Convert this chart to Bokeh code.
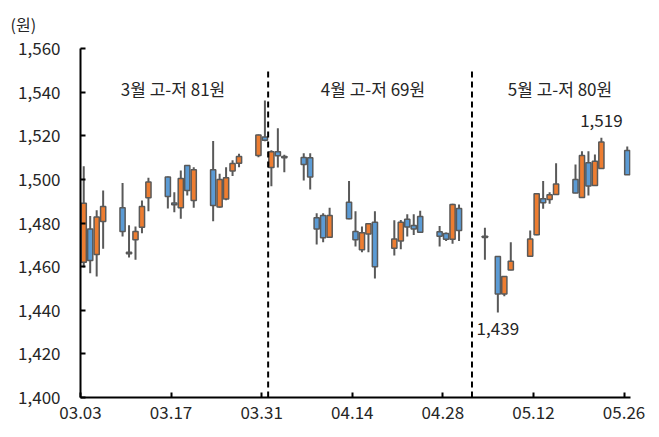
import numpy as np
from bokeh.plotting import figure
from bokeh.models import (ColumnDataSource, FixedTicker, DatetimeTickFormatter,
                          NumeralTickFormatter, Range1d)
from bokeh.embed import file_html
from bokeh.resources import INLINE
from bokeh.core.properties import value

# ---------------- data ----------------
dates = ["2025-03-03", "2025-03-04", "2025-03-05", "2025-03-06",
         "2025-03-09", "2025-03-10", "2025-03-11", "2025-03-12", "2025-03-13",
         "2025-03-16", "2025-03-17", "2025-03-18", "2025-03-19", "2025-03-20",
         "2025-03-23", "2025-03-24", "2025-03-25", "2025-03-26", "2025-03-27",
         "2025-03-30", "2025-03-31", "2025-04-01", "2025-04-02", "2025-04-03",
         "2025-04-06", "2025-04-07", "2025-04-08", "2025-04-09", "2025-04-10",
         "2025-04-13", "2025-04-14", "2025-04-15", "2025-04-16", "2025-04-17",
         "2025-04-20", "2025-04-21", "2025-04-22", "2025-04-23", "2025-04-24",
         "2025-04-27", "2025-04-28", "2025-04-29", "2025-04-30",
         "2025-05-04", "2025-05-06", "2025-05-07", "2025-05-08",
         "2025-05-11", "2025-05-12", "2025-05-13", "2025-05-14", "2025-05-15",
         "2025-05-18", "2025-05-19", "2025-05-20", "2025-05-21", "2025-05-22",
         "2025-05-26"]
opens = [1462.0, 1477.3, 1465.6, 1480.7,
         1487.0, 1466.6, 1472.3, 1478.1, 1491.6,
         1501.1, 1489.2, 1487.0, 1506.4, 1490.3,
         1504.4, 1487.3, 1491.0, 1503.8, 1507.4,
         1511.0, 1519.4, 1505.5, 1512.7, 1510.5,
         1510.0, 1509.9, 1482.4, 1483.4, 1473.5,
         1489.5, 1476.1, 1467.7, 1475.0, 1480.4,
         1468.4, 1471.8, 1481.7, 1478.9, 1483.0,
         1476.0, 1475.2, 1472.5, 1486.6,
         1473.9, 1464.6, 1447.5, 1458.5,
         1464.7, 1474.6, 1491.1, 1490.8, 1493.1,
         1499.9, 1491.7, 1507.6, 1497.2, 1505.0,
         1513.2]
closes = [1489.1, 1462.8, 1482.7, 1487.6,
          1476.1, 1465.9, 1476.1, 1487.6, 1498.8,
          1492.2, 1488.4, 1500.4, 1494.9, 1504.4,
          1488.0, 1500.0, 1500.8, 1507.3, 1510.5,
          1520.3, 1517.9, 1512.7, 1510.8, 1509.9,
          1506.8, 1501.1, 1477.3, 1473.2, 1483.4,
          1481.9, 1472.3, 1475.5, 1479.6, 1460.0,
          1472.7, 1480.4, 1478.2, 1477.2, 1475.8,
          1473.9, 1472.5, 1488.5, 1476.6,
          1473.3, 1447.5, 1455.5, 1462.5,
          1472.7, 1493.4, 1489.3, 1493.0, 1497.9,
          1493.7, 1511.0, 1497.0, 1508.3, 1517.1,
          1502.1]
highs = [1506.0, 1483.2, 1485.8, 1494.9,
         1498.3, 1479.0, 1478.4, 1490.3, 1500.8,
         1501.3, 1494.1, 1504.1, 1506.6, 1505.6,
         1517.6, 1502.6, 1505.6, 1508.8, 1511.7,
         1520.6, 1536.2, 1513.4, 1523.4, 1511.3,
         1512.0, 1512.0, 1484.5, 1484.5, 1487.0,
         1499.2, 1485.4, 1478.4, 1480.0, 1485.4,
         1481.3, 1481.4, 1484.0, 1484.0, 1485.6,
         1478.6, 1475.6, 1488.8, 1488.5,
         1477.8, 1464.8, 1455.6, 1471.2,
         1476.6, 1493.8, 1499.2, 1494.1, 1507.4,
         1506.8, 1512.9, 1512.9, 1511.4, 1519.1,
         1515.1]
lows = [1459.6, 1457.0, 1455.5, 1468.2,
        1473.8, 1464.2, 1463.1, 1475.3, 1485.4,
        1486.6, 1484.9, 1481.9, 1492.6, 1487.0,
        1480.8, 1487.0, 1490.4, 1501.5, 1505.6,
        1510.2, 1517.5, 1496.8, 1505.5, 1503.3,
        1499.5, 1495.4, 1470.2, 1471.2, 1473.3,
        1481.7, 1469.2, 1466.6, 1466.6, 1454.5,
        1465.1, 1468.0, 1473.8, 1474.5, 1475.5,
        1469.2, 1471.7, 1470.5, 1471.8,
        1463.1, 1439.0, 1446.4, 1458.3,
        1464.5, 1474.4, 1486.5, 1488.8, 1493.0,
        1493.6, 1491.6, 1492.6, 1497.1, 1504.9,
        1502.0]

y_ticks = [1400, 1420, 1440, 1460, 1480, 1500, 1520, 1540, 1560]
x_tick_labels = ["03.03", "03.17", "03.31", "04.14", "04.28", "05.12", "05.26"]
months = [3, 4, 5]
month_names = ["3월", "4월", "5월"]
unit_label = "(원)"

# ---------------- styling / layout constants ----------------
UP = "#ED7D31"
DOWN = "#5B9BD5"
EDGE = "#595959"
TXT = "#262626"
FONT = "Noto Sans CJK KR"
DAY = 86400000.0

t = np.array(dates, dtype="datetime64[ms]").astype("int64").astype(float)
o = np.array(opens); c = np.array(closes)
h = np.array(highs); l = np.array(lows)
xc = t + DAY / 2.0                     # each candle centred in its day slot
mon = np.array([int(d[5:7]) for d in dates])

src = ColumnDataSource(dict(
    x=xc, top=np.maximum(o, c), bottom=np.minimum(o, c), high=h, low=l,
    color=np.where(c > o, UP, DOWN)))

x_start = np.datetime64("2025-03-03", "ms").astype("int64").astype(float)
x_end = np.datetime64("2025-05-27", "ms").astype("int64").astype(float)

p = figure(width=659, height=437, x_axis_type="datetime",
           output_backend="svg", toolbar_location=None,
           x_range=Range1d(x_start, x_end), y_range=Range1d(1400, 1560),
           min_border_left=80, min_border_right=29,
           min_border_top=48, min_border_bottom=40)
p.outline_line_color = None
p.xgrid.grid_line_color = None
p.ygrid.grid_line_color = None
p.background_fill_color = "white"
p.border_fill_color = "white"

# unit label as a left-aligned title above the y axis
p.title.text = unit_label
p.title.align = "left"
p.title.vertical_align = "top"
p.title.offset = -70
p.title.standoff = 22
p.title.text_font = FONT
p.title.text_font_size = "16px"
p.title.text_font_style = "normal"
p.title.text_color = TXT

# wicks and bodies
p.segment(x0="x", y0="low", x1="x", y1="high", source=src,
          line_color=EDGE, line_width=2)
p.vbar(x="x", width=0.8 * DAY, top="top", bottom="bottom", source=src,
       fill_color="color", line_color=EDGE, line_width=1.5)

# month dividers (midway between the month's last slot and the next month's first slot)
div_x = []
for m in months[:-1]:
    last_end = t[mon == m].max() + DAY
    next_start = t[mon == m + 1].min()
    div_x.append((last_end + next_start) / 2.0)
p.segment(x0=div_x, y0=[1400] * len(div_x), x1=div_x, y1=[1551] * len(div_x),
          line_color="black", line_width=2, line_dash="6 4")

# month range labels
label_x = [x_start + 14.3 * DAY, x_start + 45.2 * DAY, x_start + 74.1 * DAY]
label_txt = []
for m, name in zip(months, month_names):
    rng = h[mon == m].max() - l[mon == m].min()
    label_txt.append(f"{name} 고-저 {int(round(rng))}원")
p.text(x=label_x, y=[1541.7] * 3, text=label_txt, text_align="center",
       text_baseline="middle", text_font=value(FONT), text_font_size="17px",
       text_color=TXT)

# extreme values in May
may = mon == 5
i_hi = np.where(may)[0][np.argmax(h[may])]
i_lo = np.where(may)[0][np.argmin(l[may])]
p.text(x=[xc[i_hi]], y=[h[i_hi]], text=[f"{int(round(h[i_hi])):,}"],
       text_align="center", text_baseline="middle", y_offset=-17,
       text_font=value(FONT), text_font_size="17px", text_color=TXT)
p.text(x=[xc[i_lo]], y=[l[i_lo]], text=[f"{int(round(l[i_lo])):,}"],
       text_align="center", text_baseline="middle", y_offset=16,
       text_font=value(FONT), text_font_size="17px", text_color=TXT)

# axes
x_ticks = [np.datetime64("2025-" + s.replace(".", "-"), "ms").astype("int64").astype(float)
           for s in x_tick_labels]
p.xaxis.ticker = FixedTicker(ticks=x_ticks)
p.xaxis.formatter = DatetimeTickFormatter(days="%m.%d", months="%m.%d", years="%m.%d")
p.yaxis.ticker = FixedTicker(ticks=y_ticks)
p.yaxis.formatter = NumeralTickFormatter(format="0,0")
for ax in (p.xaxis, p.yaxis):
    ax.axis_line_color = "black"
    ax.axis_line_width = 2
    ax.major_tick_line_color = "black"
    ax.major_tick_line_width = 2
    ax.major_tick_in = 5
    ax.major_tick_out = 0
    ax.minor_tick_line_color = None
    ax.major_label_text_font = FONT
    ax.major_label_text_font_size = "17px"
    ax.major_label_text_color = TXT
p.yaxis.major_label_standoff = 20
p.xaxis.major_label_standoff = 8

open("out.html", "w").write(file_html(p, INLINE))
